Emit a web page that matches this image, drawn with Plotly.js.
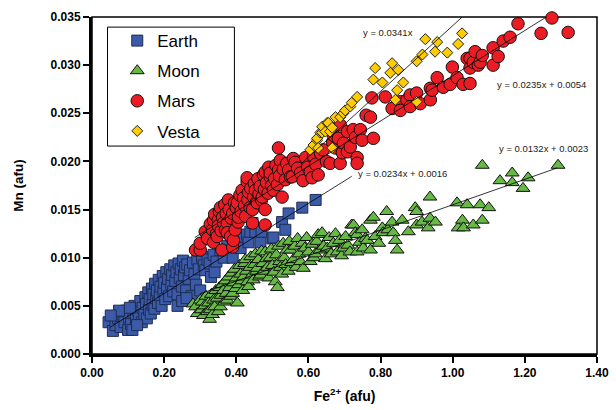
<!DOCTYPE html>
<html>
<head>
<meta charset="utf-8">
<script src="https://cdn.plot.ly/plotly-3.0.1.min.js"></script>
<style>html,body{margin:0;padding:0;background:#fff;}#chart{width:616px;height:410px;}</style>
</head>
<body>
<div id="chart"></div>
<script>
// ---------- data ----------
const seriesNames = ["Earth", "Moon", "Mars", "Vesta"];

const earthX = [0.046,0.058,0.065,0.072,0.079,0.085,0.090,0.095,0.100,0.102,
0.108,0.112,0.115,0.118,0.122,0.127,0.130,0.134,0.138,0.140,
0.145,0.148,0.150,0.152,0.156,0.158,0.160,0.163,0.166,0.168,
0.170,0.173,0.175,0.178,0.180,0.183,0.185,0.188,0.190,0.193,
0.196,0.198,0.200,0.203,0.206,0.208,0.211,0.214,0.217,0.220,
0.222,0.225,0.228,0.231,0.234,0.237,0.240,0.243,0.246,0.249,
0.252,0.255,0.258,0.261,0.264,0.268,0.272,0.276,0.280,0.284,
0.288,0.292,0.296,0.300,0.305,0.310,0.314,0.320,0.326,0.330,
0.337,0.340,0.345,0.356,0.365,0.375,0.390,0.398,0.406,0.412,
0.420,0.430,0.434,0.439,0.445,0.453,0.467,0.470,0.500,0.503,
0.527,0.536,0.545,0.583,0.620,0.237,0.250,0.262,0.075,0.105,0.125,0.052];
const earthY = [0.0033,0.0024,0.0030,0.0037,0.0028,0.0041,0.0033,0.0045,0.0025,0.0038,
0.0031,0.0025,0.0043,0.0050,0.0036,0.0046,0.0040,0.0055,0.0033,0.0048,
0.0041,0.0059,0.0052,0.0037,0.0064,0.0046,0.0057,0.0042,0.0068,0.0051,
0.0062,0.0047,0.0073,0.0058,0.0066,0.0053,0.0077,0.0061,0.0070,0.0050,
0.0081,0.0065,0.0074,0.0057,0.0085,0.0069,0.0078,0.0060,0.0088,0.0072,
0.0082,0.0065,0.0092,0.0076,0.0085,0.0062,0.0094,0.0079,0.0088,0.0070,
0.0097,0.0082,0.0090,0.0066,0.0093,0.0078,0.0087,0.0060,0.0095,0.0083,
0.0072,0.0098,0.0088,0.0066,0.0101,0.0092,0.0087,0.0098,0.0094,0.0080,
0.0103,0.0085,0.0096,0.0108,0.0100,0.0112,0.0100,0.0114,0.0118,0.0110,
0.0122,0.0124,0.0116,0.0127,0.0136,0.0127,0.0116,0.0127,0.0120,0.0121,
0.0137,0.0129,0.0146,0.0152,0.0160,0.0050,0.0055,0.0058,0.0045,0.0048,0.0030,0.0040];

const moonX = [0.280,0.287,0.292,0.300,0.303,0.306,0.309,0.312,0.316,0.320,
0.323,0.326,0.328,0.331,0.334,0.337,0.340,0.343,0.347,0.350,
0.353,0.356,0.358,0.361,0.364,0.367,0.370,0.372,0.375,0.378,
0.381,0.384,0.387,0.390,0.392,0.395,0.398,0.400,0.403,0.406,
0.409,0.412,0.415,0.418,0.420,0.423,0.425,0.428,0.431,0.434,
0.437,0.440,0.443,0.447,0.450,0.453,0.456,0.458,0.461,0.464,
0.467,0.470,0.473,0.476,0.480,0.483,0.486,0.490,0.494,0.497,
0.500,0.504,0.508,0.511,0.514,0.517,0.520,0.522,0.526,0.530,
0.533,0.537,0.540,0.544,0.547,0.550,0.553,0.558,0.562,0.566,
0.570,0.574,0.578,0.583,0.586,0.590,0.595,0.600,0.605,0.610,
0.615,0.619,0.623,0.627,0.632,0.638,0.642,0.647,0.652,0.657,
0.663,0.669,0.675,0.680,0.686,0.692,0.697,0.703,0.709,0.715,
0.720,0.725,0.730,0.735,0.735,0.742,0.749,0.752,0.758,0.763,
0.772,0.772,0.780,0.785,0.795,0.805,0.807,0.817,0.820,0.832,
0.835,0.841,0.846,0.860,0.877,0.896,0.900,0.900,0.915,0.932,
0.937,0.937,0.952,1.012,1.015,1.027,1.030,1.040,1.057,1.076,
1.082,1.082,1.100,1.131,1.165,1.165,1.195,1.209,1.292];
const moonY = [0.0052,0.0049,0.0042,0.0056,0.0046,0.0054,0.0040,0.0050,0.0060,0.0044,
0.0053,0.0036,0.0046,0.0062,0.0041,0.0056,0.0049,0.0066,0.0058,0.0044,
0.0069,0.0049,0.0061,0.0072,0.0066,0.0054,0.0076,0.0063,0.0056,0.0080,
0.0069,0.0060,0.0084,0.0063,0.0074,0.0088,0.0068,0.0079,0.0053,0.0072,
0.0092,0.0083,0.0076,0.0066,0.0080,0.0094,0.0098,0.0086,0.0075,0.0070,
0.0090,0.0101,0.0082,0.0077,0.0093,0.0104,0.0086,0.0089,0.0098,0.0080,
0.0082,0.0107,0.0094,0.0086,0.0106,0.0099,0.0090,0.0079,0.0100,0.0109,
0.0092,0.0085,0.0075,0.0103,0.0069,0.0112,0.0096,0.0090,0.0083,0.0115,
0.0100,0.0093,0.0108,0.0086,0.0117,0.0108,0.0095,0.0098,0.0112,0.0090,
0.0120,0.0104,0.0096,0.0115,0.0089,0.0110,0.0121,0.0106,0.0096,0.0114,
0.0100,0.0104,0.0117,0.0124,0.0108,0.0126,0.0112,0.0099,0.0110,0.0121,
0.0104,0.0115,0.0125,0.0106,0.0118,0.0102,0.0110,0.0122,0.0113,0.0106,
0.0134,0.0134,0.0126,0.0106,0.0124,0.0116,0.0129,0.0110,0.0120,0.0118,
0.0139,0.0108,0.0142,0.0122,0.0115,0.0131,0.0126,0.0148,0.0129,0.0137,
0.0126,0.0118,0.0108,0.0139,0.0127,0.0152,0.0148,0.0134,0.0137,0.0131,
0.0163,0.0141,0.0137,0.0157,0.0131,0.0139,0.0131,0.0155,0.0134,0.0155,
0.0139,0.0196,0.0152,0.0180,0.0188,0.0178,0.0172,0.0183,0.0196];

const marsX = [0.287,0.300,0.300,0.314,0.320,0.328,0.334,0.337,0.337,0.340,
0.345,0.347,0.350,0.350,0.353,0.356,0.358,0.360,0.362,0.365,
0.368,0.370,0.372,0.375,0.375,0.378,0.380,0.384,0.386,0.390,
0.390,0.392,0.395,0.397,0.400,0.403,0.405,0.406,0.410,0.413,
0.416,0.420,0.423,0.426,0.430,0.430,0.432,0.434,0.438,0.440,
0.445,0.445,0.448,0.450,0.453,0.456,0.458,0.460,0.463,0.466,
0.470,0.472,0.475,0.478,0.480,0.480,0.480,0.484,0.488,0.490,
0.494,0.494,0.498,0.503,0.506,0.510,0.514,0.517,0.517,0.520,
0.522,0.527,0.530,0.536,0.540,0.545,0.550,0.555,0.558,0.563,
0.570,0.578,0.585,0.592,0.598,0.605,0.610,0.614,0.620,0.627,
0.634,0.641,0.650,0.660,0.667,0.670,0.675,0.683,0.688,0.688,
0.694,0.697,0.708,0.708,0.716,0.724,0.730,0.735,0.735,0.744,
0.749,0.760,0.772,0.776,0.780,0.813,0.832,0.855,0.855,0.873,
0.882,0.882,0.900,0.910,0.938,0.938,0.943,0.957,0.974,0.993,
0.999,1.012,1.029,1.040,1.048,1.048,1.048,1.057,1.062,1.071,
1.076,1.082,1.112,1.112,1.126,1.140,1.159,1.181,1.245,1.275,1.320];
const marsY = [0.0108,0.0108,0.0115,0.0127,0.0120,0.0135,0.0129,0.0116,0.0139,0.0145,
0.0125,0.0122,0.0139,0.0133,0.0148,0.0152,0.0128,0.0108,0.0142,0.0136,
0.0155,0.0129,0.0146,0.0136,0.0126,0.0160,0.0150,0.0122,0.0141,0.0146,
0.0111,0.0118,0.0157,0.0129,0.0152,0.0157,0.0137,0.0142,0.0165,0.0148,
0.0170,0.0162,0.0154,0.0143,0.0179,0.0183,0.0160,0.0168,0.0152,0.0172,
0.0150,0.0136,0.0163,0.0177,0.0170,0.0158,0.0157,0.0182,0.0166,0.0174,
0.0160,0.0163,0.0186,0.0171,0.0189,0.0150,0.0134,0.0178,0.0167,0.0194,
0.0184,0.0188,0.0175,0.0170,0.0182,0.0196,0.0176,0.0191,0.0214,0.0185,
0.0201,0.0163,0.0192,0.0181,0.0198,0.0191,0.0184,0.0184,0.0203,0.0199,
0.0193,0.0188,0.0180,0.0204,0.0194,0.0189,0.0183,0.0205,0.0197,0.0186,
0.0208,0.0212,0.0200,0.0198,0.0220,0.0227,0.0214,0.0224,0.0198,0.0238,
0.0209,0.0219,0.0231,0.0210,0.0215,0.0233,0.0225,0.0204,0.0198,0.0233,
0.0222,0.0248,0.0246,0.0266,0.0224,0.0267,0.0255,0.0262,0.0253,0.0264,
0.0269,0.0257,0.0271,0.0260,0.0264,0.0276,0.0274,0.0287,0.0277,0.0280,
0.0298,0.0287,0.0280,0.0307,0.0307,0.0297,0.0281,0.0303,0.0314,0.0300,
0.0303,0.0310,0.0318,0.0300,0.0309,0.0325,0.0329,0.0343,0.0333,0.0349,0.0334];

const vestaX = [0.605,0.614,0.624,0.624,0.627,0.633,0.638,0.638,0.647,0.652,
0.655,0.660,0.666,0.666,0.675,0.688,0.697,0.702,0.716,0.720,
0.735,0.780,0.785,0.805,0.827,0.832,0.841,0.846,0.849,0.863,
0.900,0.900,0.916,0.924,0.951,0.957,0.985,1.015,1.026];
const vestaY = [0.0212,0.0217,0.0222,0.0224,0.0214,0.0230,0.0230,0.0236,0.0231,0.0240,
0.0240,0.0231,0.0235,0.0214,0.0246,0.0246,0.0250,0.0253,0.0257,0.0261,
0.0267,0.0285,0.0297,0.0282,0.0292,0.0302,0.0264,0.0274,0.0295,0.0282,
0.0262,0.0304,0.0311,0.0327,0.0314,0.0324,0.0313,0.0322,0.0333];

// trend lines (order: Vesta, Mars, Earth, Moon)
const fitSlope     = [0.0341, 0.0235, 0.0234, 0.0132];
const fitIntercept = [0, 0.0054, 0.0016, 0.0023];
const fitXStart    = [0.58, 0.285, 0.05, 0.30];
const fitXEnd      = [1.03, 1.27, 0.72, 1.29];
const fitLabels    = ["y = 0.0341x", "y = 0.0235x + 0.0054", "y = 0.0234x + 0.0016", "y = 0.0132x + 0.0023"];

const xTickVals = [0, 0.2, 0.4, 0.6, 0.8, 1.0, 1.2, 1.4];
const yTickVals = [0, 0.005, 0.010, 0.015, 0.020, 0.025, 0.030, 0.035];

// ---------- styling ----------
const FONT = "Arial, 'Liberation Sans', sans-serif";
const styles = [
  {symbol: "square", size: 11, color: "#3B5BA8", line: "#1E2C55"},
  {symbol: "triangle-up", size: 12, color: "#66B945", line: "#111111"},
  {symbol: "circle", size: 12.5, color: "#EC1C24", line: "#111111"},
  {symbol: "diamond", size: 8.5, color: "#FFCC00", line: "#222222"}
];
const xs = [earthX, moonX, marsX, vestaX];
const ys = [earthY, moonY, marsY, vestaY];

const traces = seriesNames.map((n, i) => ({
  type: "scatter", mode: "markers", name: n, x: xs[i], y: ys[i],
  legendgroup: n, cliponaxis: false,
  marker: {symbol: styles[i].symbol, size: styles[i].size, color: styles[i].color,
           line: {color: styles[i].line, width: 1}}
}));

fitSlope.forEach((m, i) => {
  const x0 = fitXStart[i], x1 = fitXEnd[i];
  traces.push({
    type: "scatter", mode: "lines", showlegend: false, hoverinfo: "skip",
    x: [x0, x1], y: [m * x0 + fitIntercept[i], m * x1 + fitIntercept[i]],
    line: {color: "#000", width: 0.8}, cliponaxis: true
  });
});

const labelPos = [
  {x: 0.821, y: 0.0334},
  {x: 1.245, y: 0.0280},
  {x: 0.860, y: 0.0187},
  {x: 1.251, y: 0.0213}
];
const annotations = fitLabels.map((t, i) => ({
  text: t, x: labelPos[i].x, y: labelPos[i].y, xref: "x", yref: "y",
  showarrow: false, font: {family: FONT, size: 9.5, color: "#222"}
}));

const layout = {
  width: 616, height: 410,
  margin: {l: 92, r: 19, t: 17, b: 56},
  paper_bgcolor: "#fff", plot_bgcolor: "#fff",
  font: {family: FONT, color: "#000"},
  showlegend: true,
  legend: {
    x: 0.05, y: 0.982, xanchor: "left", yanchor: "top",
    bgcolor: "rgba(0,0,0,0)", borderwidth: 0,
    font: {family: FONT, size: 17, color: "#000"},
    traceorder: "grouped", tracegroupgap: 5, itemwidth: 30, itemsizing: "trace"
  },
  xaxis: {
    range: [0, 1.4], tickvals: xTickVals, tickformat: ".2f",
    showgrid: false, zeroline: false,
    showline: true, linewidth: 3, linecolor: "#000",
    ticks: "outside", ticklen: 6, tickwidth: 2, tickcolor: "#000",
    tickfont: {family: FONT, size: 12, weight: 700, color: "#000"},
    title: {text: "Fe<sup>2+</sup> (afu)", font: {family: FONT, size: 14, weight: 700, color: "#000"}, standoff: 12}
  },
  yaxis: {
    range: [0, 0.035], tickvals: yTickVals, tickformat: ".3f",
    showgrid: false, zeroline: false,
    showline: true, linewidth: 3, linecolor: "#000",
    ticks: "outside", ticklen: 6, tickwidth: 2, tickcolor: "#000",
    tickfont: {family: FONT, size: 12, weight: 700, color: "#000"},
    title: {text: "Mn (afu)", font: {family: FONT, size: 13.5, weight: 700, color: "#000"}, standoff: 24}
  },
  shapes: [
    {type: "rect", xref: "paper", yref: "paper", x0: 0, x1: 1, y0: 0, y1: 1,
     line: {color: "#000", width: 1.5}, layer: "below"},
    {type: "rect", xref: "paper", yref: "paper", x0: 0.0307, x1: 0.282, y0: 0.617, y1: 0.970,
     line: {color: "#000", width: 1}, fillcolor: "rgba(0,0,0,0)", layer: "above"}
  ],
  annotations: annotations
};

Plotly.newPlot("chart", traces, layout, {displayModeBar: false, staticPlot: true});
</script>
</body>
</html>
